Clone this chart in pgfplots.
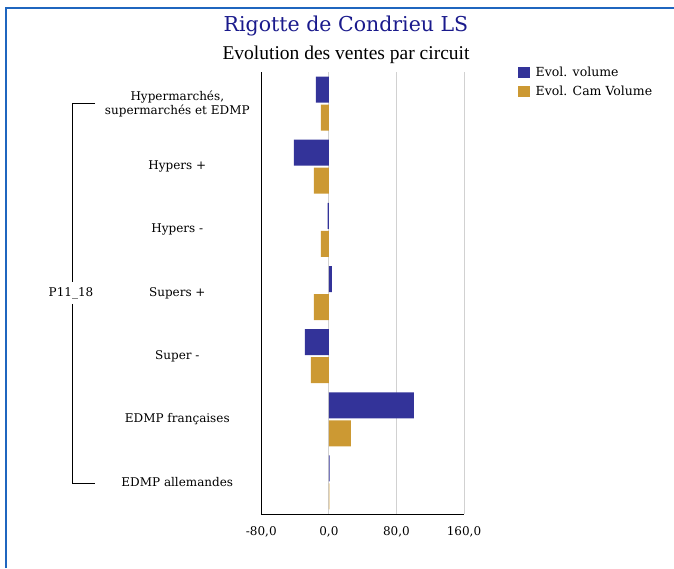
\documentclass[border=0pt]{standalone}
\usepackage{fontspec}
\setmainfont{DejaVu Serif}
\newfontfamily\timesf{Liberation Serif}
\usepackage{pgfplots}
\pgfplotsset{compat=1.18}
\definecolor{cblue}{HTML}{333399}
\definecolor{cgold}{HTML}{CC9933}
\definecolor{frameblue}{HTML}{1F66BF}
\definecolor{titleblue}{HTML}{1A1A8C}

\pgfplotstableread{
y blue gold
6 -15.4 -9.5
5 -41.5 -17.8
4 -1.5 -9.5
3 3.5 -17.8
2 -28.4 -21.3
1 100.7 26.0
0 0.8 0.6
}\datatable

\begin{document}
\begin{tikzpicture}[x=1pt,y=1pt]
\path[use as bounding box] (0,0) rectangle (674,568);
\draw[frameblue, line width=2pt] (6,0) -- (6,560) -- (674,560);
\node[titleblue, font=\fontsize{20.5}{22}\selectfont] at (346,542) {Rigotte de Condrieu LS};
\node[font=\timesf\fontsize{19.5}{21}\selectfont] at (346,513) {Evolution des ventes par circuit};

% group bracket
\draw[black, line width=0.8pt] (95,465) -- (72,465) -- (72,286);
\draw[black, line width=0.8pt] (72,264) -- (72,85) -- (95,85);
\node[font=\fontsize{12}{14}\selectfont] at (71,275) {P11\_18};

\begin{axis}[
  at={(261.3pt,54pt)}, anchor=south west,
  width=202.7pt, height=442pt, scale only axis,
  xbar, bar width=26pt,
  xmin=-80, xmax=160, ymin=-0.5, ymax=6.5,
  axis x line*=bottom, axis y line*=left,
  axis line style={-, black, line width=0.8pt},
  xtick={-80,0,80,160}, ytick=\empty,
  major tick length=0pt,
  xmajorgrids, grid style={black!18, line width=1pt},
  /pgf/number format/assume math mode=true,
  xticklabel={\pgfmathprintnumber[fixed, fixed zerofill, precision=1, use comma]{\tick}},
  xticklabel style={font=\fontsize{12}{14}\selectfont, yshift=-9pt},
  legend style={at={(axis description cs:1.2665,1.0158)}, anchor=north west,
    draw=none, fill=none, font=\fontsize{12.5}{14}\selectfont,
    row sep=5pt, inner sep=0pt, nodes={inner sep=1.5pt}},
  legend cell align=left,
  legend image code/.code={\fill[#1] (-2pt,-5.5pt) rectangle (10pt,5.5pt); \path (14pt,0pt);},
  clip=false,
]
\addplot[fill=cblue, draw=none, bar shift=14pt] table[x=blue, y=y] {\datatable};
\addplot[fill=cgold, draw=none, bar shift=-14pt] table[x=gold, y=y] {\datatable};
\legend{Evol. volume, Evol. Cam Volume}

\begin{scope}[every node/.style={font=\fontsize{12}{14}\selectfont, align=center, anchor=center}]
\node at ([xshift=-84pt]axis cs:-80,6) {Hypermarchés,\\supermarchés et EDMP};
\node at ([xshift=-84pt]axis cs:-80,5) {Hypers +};
\node at ([xshift=-84pt]axis cs:-80,4) {Hypers -};
\node at ([xshift=-84pt]axis cs:-80,3) {Supers +};
\node at ([xshift=-84pt]axis cs:-80,2) {Super -};
\node at ([xshift=-84pt]axis cs:-80,1) {EDMP françaises};
\node at ([xshift=-84pt]axis cs:-80,0) {EDMP allemandes};
\end{scope}
\end{axis}
\end{tikzpicture}
\end{document}
